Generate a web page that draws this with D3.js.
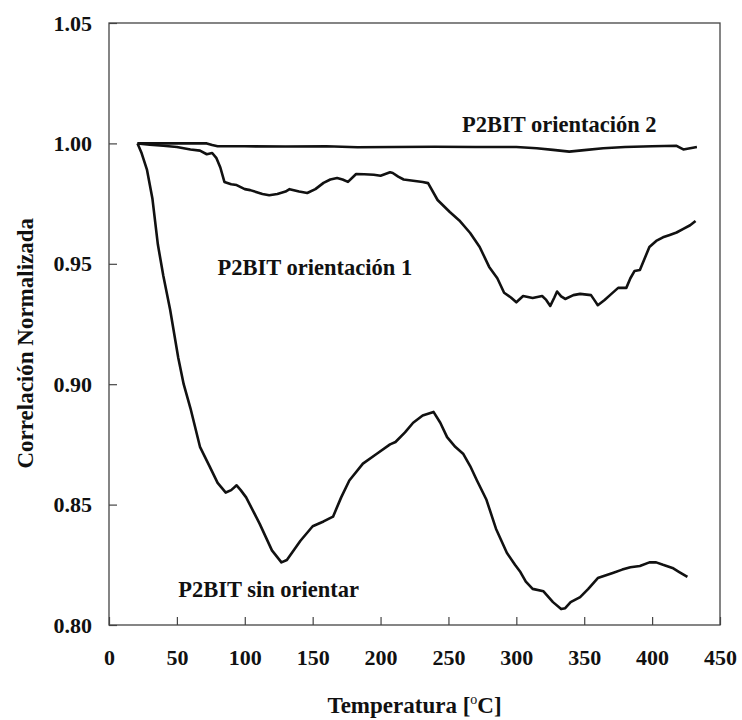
<!DOCTYPE html>
<html>
<head>
<meta charset="utf-8">
<script src="https://cdn.jsdelivr.net/npm/d3@7"></script>
<style>
    body { margin: 0; background: #fff; }
    .frame { fill: none; stroke: #444; stroke-width: 1.3; }
    .curve { fill: none; stroke: #111; stroke-width: 2.6; stroke-linejoin: round; }
</style>
</head>
<body>
<div id="chart"></div>
<script>
const serifFont = "Liberation Serif";

// Temperature ticks and y ticks
const xTicks = [0, 50, 100, 150, 200, 250, 300, 350, 400, 450];
const yTicks = [0.80, 0.85, 0.90, 0.95, 1.00, 1.05];

// P2BIT sin orientar
const tempSinOrientar = [21, 24, 28, 32, 36, 40, 45, 51, 55, 60, 67, 74, 80, 86, 90, 94, 97, 101, 111, 120,
    127, 131, 141, 150, 158, 165, 171, 177, 187, 197, 207, 211, 218, 224, 231, 239, 244, 249, 255, 261,
    266, 271, 278, 285, 293, 299, 303, 307, 312, 320, 327, 333, 336, 340, 347, 353, 360, 371, 378, 384,
    391, 398, 403, 408, 415, 420, 426];
const corrSinOrientar = [1.000, 0.996, 0.989, 0.977, 0.958, 0.945, 0.931, 0.911, 0.900, 0.890, 0.874, 0.866, 0.859, 0.855, 0.856, 0.858, 0.856, 0.853, 0.842, 0.831,
    0.826, 0.827, 0.835, 0.841, 0.843, 0.845, 0.853, 0.860, 0.867, 0.871, 0.875, 0.876, 0.880, 0.884, 0.887, 0.8885, 0.884, 0.878, 0.874, 0.871,
    0.866, 0.860, 0.852, 0.840, 0.830, 0.825, 0.822, 0.818, 0.815, 0.814, 0.8095, 0.8066, 0.807, 0.8095, 0.8116, 0.815, 0.8195, 0.8216, 0.823, 0.824,
    0.8245, 0.826, 0.826, 0.825, 0.8237, 0.822, 0.820];

// P2BIT orientación 1
const tempOrient1 = [21, 30, 40, 50, 60, 67, 72, 76, 79, 82, 85, 90, 94, 100, 104, 113, 118, 124, 130, 133,
    140, 146, 152, 158, 163, 168, 172, 176, 182, 188, 195, 200, 207, 209, 213, 217, 224, 231, 235, 242,
    251, 258, 266, 273, 280, 286, 291, 296, 300, 305, 312, 319, 322, 325, 328, 330, 333, 336, 342, 347,
    355, 358, 360, 365, 369, 375, 381, 384, 387, 391, 398, 403, 408, 413, 418, 423, 428, 432];
const corrOrient1 = [1.000, 0.9995, 0.999, 0.9985, 0.9975, 0.997, 0.9955, 0.996, 0.994, 0.990, 0.984, 0.983, 0.9827, 0.981, 0.9806, 0.979, 0.9785, 0.979, 0.980, 0.981,
    0.980, 0.9794, 0.981, 0.9836, 0.985, 0.9856, 0.985, 0.984, 0.9873, 0.9872, 0.987, 0.9866, 0.988, 0.9877, 0.9862, 0.985, 0.9845, 0.984, 0.9835, 0.9765,
    0.9715, 0.968, 0.9628, 0.957, 0.9487, 0.944, 0.938, 0.936, 0.934, 0.9366, 0.9358, 0.9366, 0.935, 0.9325, 0.936, 0.9385, 0.9365, 0.9354, 0.937, 0.9375,
    0.937, 0.9345, 0.9328, 0.935, 0.937, 0.940, 0.940, 0.944, 0.947, 0.9474, 0.957, 0.9595, 0.961, 0.962, 0.963, 0.9645, 0.966, 0.9678];

// P2BIT orientación 2
const tempOrient2 = [21, 40, 60, 72, 76, 80, 100, 130, 160, 183, 210, 240, 270, 300, 315, 327, 339, 350, 364, 380, 400, 418, 423, 428, 433];
const corrOrient2 = [1.000, 1.000, 1.000, 1.000, 0.9993, 0.9988, 0.9988, 0.9987, 0.9988, 0.9984, 0.9985, 0.9986, 0.9985, 0.9985, 0.998, 0.9973, 0.9966, 0.9972, 0.998, 0.9985, 0.9988, 0.999, 0.9975, 0.998, 0.9985];

// Curve labels
const labelTexts = ["P2BIT orientación 2", "P2BIT orientación 1", "P2BIT sin orientar"];
const labelTemps = [260, 80, 51];
const labelCorrs = [1.0046, 0.9453, 0.8115];

class LineChart {
    constructor(parentElement) {
        let vis = this;
        vis.parentElement = parentElement;
        vis.margin = { top: 23, right: 22, bottom: 95, left: 109 };
        vis.totalWidth = 742;
        vis.totalHeight = 720;
        vis.series = [
            tempSinOrientar.map((t, i) => ({ t: t, v: corrSinOrientar[i] })),
            tempOrient1.map((t, i) => ({ t: t, v: corrOrient1[i] })),
            tempOrient2.map((t, i) => ({ t: t, v: corrOrient2[i] }))
        ];
        vis.initVis();
    }

    initVis() {
        let vis = this;
        vis.width = vis.totalWidth - vis.margin.left - vis.margin.right;
        vis.height = vis.totalHeight - vis.margin.top - vis.margin.bottom;

        vis.svg = d3.select(`#${vis.parentElement}`)
            .append("svg")
            .attr("class", "chart-svg")
            .attr("width", vis.totalWidth)
            .attr("height", vis.totalHeight);

        vis.chartGroup = vis.svg.append("g")
            .attr("transform", `translate(${vis.margin.left},${vis.margin.top})`);

        vis.x = d3.scaleLinear().domain([0, 450]).range([0, vis.width]);
        vis.y = d3.scaleLinear().domain([0.80, 1.05]).range([vis.height, 0]);

        // Axes with inward ticks
        vis.xAxis = d3.axisBottom(vis.x).tickValues(xTicks).tickSizeInner(-8).tickSizeOuter(0).tickPadding(24);
        vis.yAxis = d3.axisLeft(vis.y).tickValues(yTicks).tickSizeInner(-8).tickSizeOuter(0).tickPadding(17)
            .tickFormat(d3.format(".2f"));

        vis.chartGroup.append("g")
            .attr("class", "x-axis")
            .attr("transform", `translate(0,${vis.height})`)
            .call(vis.xAxis);
        vis.chartGroup.append("g")
            .attr("class", "y-axis")
            .call(vis.yAxis);

        vis.chartGroup.selectAll(".domain").remove();
        vis.chartGroup.selectAll(".tick line").attr("stroke", "#444").attr("stroke-width", 1.2);
        vis.chartGroup.selectAll(".tick text")
            .style("font-family", serifFont)
            .style("font-weight", "bold")
            .style("font-size", "22px")
            .attr("fill", "#111");

        // Frame around the plot
        vis.chartGroup.append("rect")
            .attr("class", "frame")
            .attr("width", vis.width)
            .attr("height", vis.height);

        // Axis titles
        vis.svg.append("text")
            .attr("transform", `translate(33,${vis.margin.top + vis.y(0.917)}) rotate(-90)`)
            .style("text-anchor", "middle")
            .style("font-family", serifFont)
            .style("font-weight", "bold")
            .style("font-size", "23px")
            .attr("fill", "#111")
            .text("Correlación Normalizada");

        let xTitle = vis.svg.append("text")
            .attr("x", vis.margin.left + vis.x(225))
            .attr("y", 713)
            .style("text-anchor", "middle")
            .style("font-family", serifFont)
            .style("font-weight", "bold")
            .style("font-size", "23px")
            .attr("fill", "#111");
        xTitle.append("tspan").text("Temperatura [");
        xTitle.append("tspan").attr("dy", -9).style("font-size", "14px").style("font-weight", "normal").text("o");
        xTitle.append("tspan").attr("dy", 9).text("C]");

        vis.updateVis();
    }

    updateVis() {
        let vis = this;

        const line = d3.line()
            .x(d => vis.x(d.t))
            .y(d => vis.y(d.v));

        vis.chartGroup.selectAll(".curve")
            .data(vis.series)
            .enter()
            .append("path")
            .attr("class", "curve")
            .attr("d", line);

        vis.chartGroup.selectAll(".curve-label")
            .data(labelTexts)
            .enter()
            .append("text")
            .attr("class", "curve-label")
            .attr("x", (d, i) => vis.x(labelTemps[i]))
            .attr("y", (d, i) => vis.y(labelCorrs[i]))
            .style("font-family", serifFont)
            .style("font-weight", "bold")
            .style("font-size", "22.5px")
            .attr("fill", "#111")
            .text(d => d);
    }
}

new LineChart("chart");
</script>
</body>
</html>
